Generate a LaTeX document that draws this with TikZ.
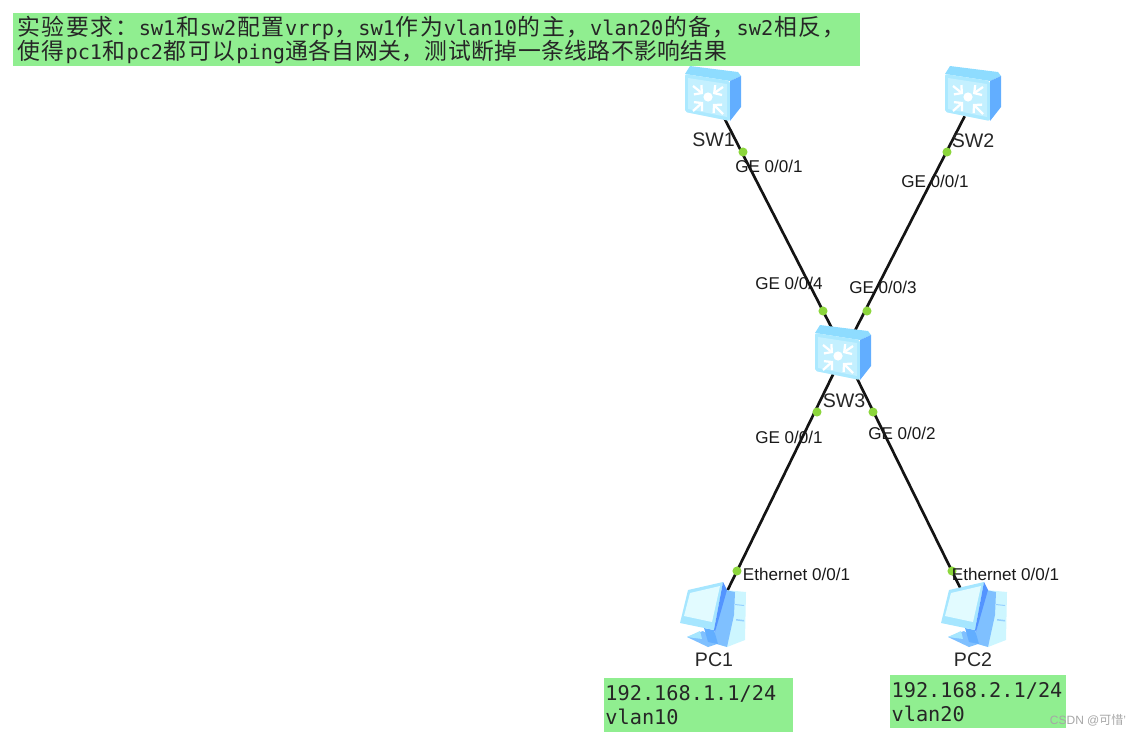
\documentclass[tikz,border=0pt]{standalone}
\usepackage{fontspec}
\setmainfont{Liberation Sans}
\newfontfamily\monof{DejaVu Sans Mono}
\newfontfamily\cjkf[Scale=1.126]{Noto Sans CJK SC}
\newfontfamily\cjkplain{Noto Sans CJK SC}
\usetikzlibrary{arrows.meta}
% CJK runs with a fixed advance per character, as in the reference
\newdimen\cjadv
\newcommand{\cjrun}[2][18.3pt]{{\cjadv=#1\cjkf\cjloop#2\relax}}
\def\cjloop#1{\ifx#1\relax\else\makebox[\cjadv]{#1}\expandafter\cjloop\fi}
\definecolor{boxgreen}{HTML}{90EE90}
\definecolor{portgreen}{HTML}{8CD63C}
\definecolor{sfront}{HTML}{C4F0FF}
\definecolor{sedge}{HTML}{ACE9FF}
\definecolor{stop}{HTML}{8EDCFF}
\definecolor{sside}{HTML}{62AEFF}
\definecolor{pcblue}{HTML}{7FC0FF}
\definecolor{pclight}{HTML}{CDF6FF}
\definecolor{pcmon}{HTML}{A6E6FF}
\definecolor{pcscr}{HTML}{E2FBFF}
\tikzset{
  x=0.75pt,y=-0.75pt,
  lab/.style={font=\fontsize{12.8}{14}\selectfont,inner sep=0pt,text=black!90},
  devlab/.style={font=\fontsize{14.7}{16}\selectfont,inner sep=0pt,text=black!85},
  link/.style={line width=2pt,draw=black!92},
  portdot/.style={circle,fill=portgreen,inner sep=0pt,minimum size=6.8pt},
  devnode/.style={rectangle,inner sep=0pt,minimum width=30pt,minimum height=30pt},
  pcnode/.style={rectangle,inner sep=0pt,minimum width=40pt,minimum height=40pt},
  greenbox/.style={fill=boxgreen,anchor=north west,inner xsep=2.6pt,inner ysep=0pt,align=left,
    font=\monof\fontsize{15.2}{18}\selectfont,text=black!85},
  switchicon/.pic={
    \fill[stop] (-28,-21) -- (-23,-29) -- (25,-23) -- (28,-19) -- (17,-14) -- cycle;
    \fill[sedge,rounded corners=1.5pt] (-28,-21) -- (17,-14) -- (17,26) -- (-28,17) -- cycle;
    \fill[sfront] (-25,-17) -- (14,-11) -- (14,22) -- (-25,14) -- cycle;
    \fill[sside] (17,-14) -- (28,-19) -- (28,12) -- (17,26) -- cycle;
    \fill[white] (-5,2) circle[radius=4.6];
    \foreach \ax/\ay/\bx/\by in {-20/-9/-10/-1, 10/-8/0/-1, -20/16/-10/7, 10/19/0/9}
      \draw[white,line width=1.7pt,-{Straight Barb[length=4pt,width=9pt]}] (\ax,\ay) -- (\bx,\by);
  },
  pcicon/.pic={
    \fill[pclight] (11,-28) -- (32,-26) -- (31,22) -- (13,29) -- (-4,24) -- cycle;
    \fill[pcblue] (11,-28) -- (21,-26) -- (20,-3) -- (13,29) -- (-4,24) -- (1,14) -- cycle;
    \fill[pcblue!70!pclight] (21,-14) -- (30,-13) -- (30,-12) -- (21,-13) -- cycle;
    \fill[pcblue!70!pclight] (22,1) -- (30,2) -- (30,3.5) -- (22,2.5) -- cycle;
    \fill[pcblue] (-27,19) -- (-11,13) -- (6,25) -- (-6,29) -- cycle;
    \fill[pcmon] (-27,19) -- (-14,13) -- (-12,21) -- cycle;
    \fill[sside] (-10,10) -- (0,12) -- (4,26) -- (-6,24) -- cycle;
    \fill[pcmon] (-26,-28) -- (9,-36) -- (0,12) -- (-34,5) -- cycle;
    \fill[pcscr] (-24,-25) -- (6,-32) -- (-2,4) -- (-30,-2) -- cycle;
    \fill[sside!85!blue] (9,-36) -- (13,-28) -- (1,14) -- (0,12) -- cycle;
  }
}
\begin{document}
\begin{tikzpicture}
\useasboundingbox (0,0) rectangle (1141,736);
% green note boxes
\node[greenbox,minimum width=635.25pt,minimum height=39.75pt,text width=630pt] (task) at (13,13)
  {\cjrun{实验要求：}sw1\cjrun{和}sw2\cjrun{配置}vrrp\cjrun{，}sw1\cjrun{作为}vlan10\cjrun{的主，}vlan20\cjrun{的备，}sw2\cjrun{相反，}\\
   \cjrun{使得}pc1\cjrun{和}pc2\cjrun{都可以}ping\cjrun[17.45pt]{通各自网关，测试断掉一条线路不影响结果}};
\node[greenbox,minimum width=141.75pt,minimum height=40.5pt,text width=140pt,inner xsep=0.5pt] (note1) at (604,678) {192.168.1.1/24\\vlan10};
\node[greenbox,minimum width=132pt,minimum height=39.75pt,text width=130pt,inner xsep=0.8pt] (note2) at (890,675) {192.168.2.1/24\\vlan20};
% device anchors
\node[devnode] (sw1) at (713,96) {};
\node[devnode] (sw2) at (975,96) {};
\node[devnode] (sw3) at (844,352) {};
\node[pcnode] (pc1) at (714,618) {};
\node[pcnode] (pc2) at (975,618) {};
% links
\draw[link] (sw1) -- (sw3);
\draw[link] (sw2) -- (sw3);
\draw[link] (sw3) -- (pc1);
\draw[link] (sw3) -- (pc2);
% icons
\pic at ([yshift=0.75pt]sw1) {switchicon};
\pic at ([xshift=-1.5pt,yshift=0.75pt]sw2) {switchicon};
\pic at ([xshift=-0.75pt,yshift=-1.5pt]sw3) {switchicon};
\pic at (pc1) {pcicon};
\pic at (pc2) {pcicon};
% port dots
\node[portdot] (p1) at (743,152) {};
\node[portdot] (p2) at (947,152) {};
\node[portdot] (p3) at (823,311) {};
\node[portdot] (p4) at (867,311) {};
\node[portdot] (p5) at (817,412) {};
\node[portdot] (p6) at (873,412) {};
\node[portdot] (p7) at (737,571) {};
\node[portdot] (p8) at (952,571) {};
% labels
\node[devlab] (l1) at (713.5,140) {SW1};
\node[devlab] (l2) at (973,141) {SW2};
\node[devlab] (l3) at (844,401) {SW3};
\node[devlab] (l4) at (714,660) {PC1};
\node[devlab] (l5) at (973,660) {PC2};
\node[lab] (g1) at (769,166) {GE 0/0/1};
\node[lab] (g2) at (935,181) {GE 0/0/1};
\node[lab] (g3) at (789,283) {GE 0/0/4};
\node[lab] (g4) at (883,287) {GE 0/0/3};
\node[lab] (g5) at (789,437) {GE 0/0/1};
\node[lab] (g6) at (902,433) {GE 0/0/2};
\node[lab] (e1) at (796.5,574) {Ethernet 0/0/1};
\node[lab] (e2) at (1005.5,574) {Ethernet 0/0/1};
\node[inner sep=0pt,font=\fontsize{9}{11}\selectfont,text=black!35] (wm) at (1088,720) {CSDN @{\cjkplain 可惜}'};
\end{tikzpicture}
\end{document}
